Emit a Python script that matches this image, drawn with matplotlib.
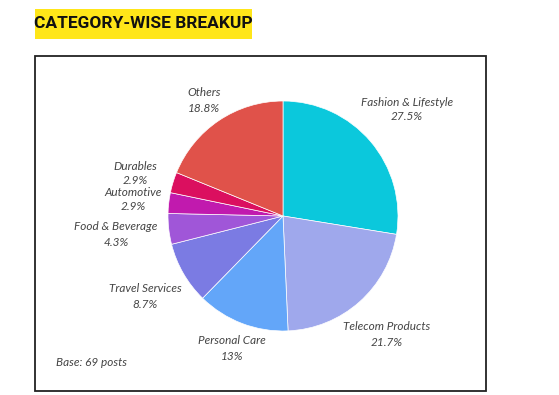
import matplotlib
matplotlib.use("Agg")
import matplotlib.pyplot as plt
from matplotlib.patches import Rectangle

categories = ["Fashion & Lifestyle", "Telecom Products", "Personal Care", "Travel Services",
              "Food & Beverage", "Automotive", "Durables", "Others"]
values = [27.5, 21.7, 13, 8.7, 4.3, 2.9, 2.9, 18.8]
value_labels = ["27.5%", "21.7%", "13%", "8.7%", "4.3%", "2.9%", "2.9%", "18.8%"]
colors = ["#0BC8DC", "#9FA8EC", "#63A6F9", "#7B7BE3", "#A056D8", "#C11AAE", "#DB0F5F", "#E0524A"]
title = "CATEGORY-WISE BREAKUP"
base_note = "Base: 69 posts"

# label anchor positions in pixels (layout)
label_px = [(407, 102), (387, 327), (232, 341), (145, 289), (116, 227), (133, 192), (135, 166), (204, 93)]

W, H = 559, 395
fig = plt.figure(figsize=(W / 100, H / 100), dpi=100)
fig.patch.set_facecolor("white")

cx, cy, R = 283, 216, 115
ax = fig.add_axes([0, 0, 1, 1])
ax.pie(values, colors=colors, startangle=90, counterclock=False, radius=1,
       wedgeprops=dict(edgecolor="white", linewidth=0.5))
ax.set_aspect("auto")
ax.set_xlim(-cx / R, (W - cx) / R)
ax.set_ylim(-(H - cy) / R, cy / R)
ax.axis("off")

font = ["Lato", "DejaVu Sans"]
for (px, py), name, vl in zip(label_px, categories, value_labels):
    x = (px - cx) / R
    y = (cy - py) / R
    ax.text(x, y, name, ha="center", va="center", fontsize=8.5, style="italic",
            color="#444444", family=font)
    ax.text(x, y - 15 / R, vl, ha="center", va="center", fontsize=8.5, style="italic",
            color="#444444", family=font)

fig.text(56 / W, 1 - 362 / H, base_note, ha="left", va="center", fontsize=8.5, style="italic",
         color="#444444", family=font)

# outer box
fig.patches.append(Rectangle((35 / W, 1 - 391 / H), (486 - 35) / W, (391 - 56) / H,
                             transform=fig.transFigure, fill=False, edgecolor="#222222",
                             linewidth=1.3))

# title
fig.patches.append(Rectangle((35 / W, 1 - 39 / H), (252 - 35) / W, (39 - 9) / H,
                             transform=fig.transFigure, facecolor="#FFE619", edgecolor="none"))
fig.text(143.5 / W, 1 - 23.5 / H, title, ha="center", va="center", fontsize=12.5,
         fontweight="bold", color="#111111",
         family=["Roboto", "DejaVu Sans"])

fig.savefig("out.png", dpi=100)
